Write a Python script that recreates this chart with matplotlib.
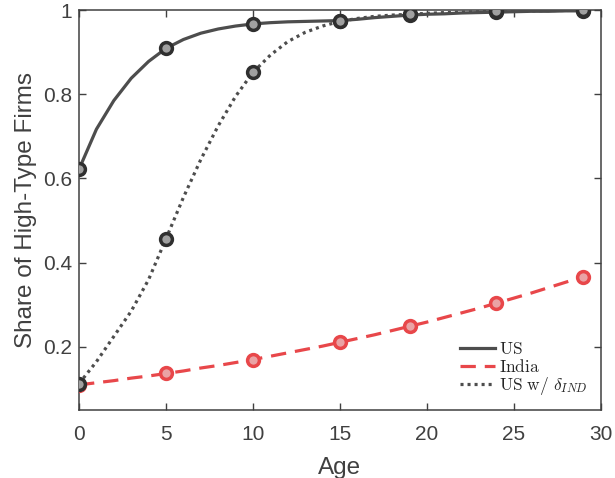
import numpy as np
import matplotlib
matplotlib.use('Agg')
import matplotlib.pyplot as plt

plt.rcParams['font.family'] = ['Liberation Sans', 'DejaVu Sans']
plt.rcParams['mathtext.fontset'] = 'cm'

# Daten
age = np.arange(30)
us = [0.622, 0.717, 0.785, 0.838, 0.878, 0.909, 0.930, 0.945, 0.955, 0.962,
      0.967, 0.970, 0.972, 0.973, 0.974, 0.975, 0.978, 0.982, 0.985, 0.988,
      0.990, 0.991, 0.993, 0.994, 0.995, 0.996, 0.997, 0.997, 0.998, 0.998]
india = [0.110, 0.115, 0.120, 0.126, 0.131, 0.137, 0.143, 0.150, 0.156, 0.163,
         0.170, 0.178, 0.186, 0.194, 0.202, 0.211, 0.220, 0.229, 0.239, 0.249,
         0.259, 0.270, 0.281, 0.292, 0.304, 0.316, 0.328, 0.341, 0.354, 0.367]
us_ind = [0.113, 0.165, 0.225, 0.285, 0.360, 0.457, 0.555, 0.645, 0.725, 0.795,
          0.852, 0.893, 0.925, 0.947, 0.962, 0.973, 0.980, 0.985, 0.988, 0.990,
          0.992, 0.994, 0.995, 0.996, 0.997, 0.998, 0.998, 0.999, 0.999, 1.000]
marker_ages = [0, 5, 10, 15, 19, 24, 29]

fig = plt.figure(figsize=(6.15, 4.78), dpi=100)
ax = fig.add_axes([0.1285, 0.142, 0.8485, 0.837])

grau = '#4d4d4d'
rot = '#e8474a'

ax.plot(age, us, color=grau, lw=2.3, label=r'$\mathrm{US}$', zorder=3)
ax.plot(age, india, color=rot, lw=2.3, dashes=(4.8, 2.8), label=r'$\mathrm{India}$', zorder=3)
ax.plot(age, us_ind, color=grau, lw=2.3, linestyle=(0, (0.95, 1.25)),
        label=r'$\mathrm{US\ w/}\ \delta_{IND}$', zorder=3)

# Marker an ausgewaehlten Jahren
for serie, fc, ec in [(us, '#a0a0a0', '#2f2f2f'), (india, '#eaa3a5', rot), (us_ind, '#a0a0a0', '#2f2f2f')]:
    ax.plot(marker_ages, [serie[a] for a in marker_ages], 'o', ms=8.5, mfc=fc, mec=ec,
            mew=2.5, linestyle='none', zorder=4)

ax.set_xlim(0, 30)
ax.set_ylim(0.05, 1)
ax.set_xticks(range(0, 31, 5))
ax.set_yticks([0.2, 0.4, 0.6, 0.8, 1.0])
ax.set_yticklabels(['0.2', '0.4', '0.6', '0.8', '1'])
ax.set_xlabel('Age', fontsize=17.5, color='#404040', labelpad=9)
ax.set_ylabel('Share of High-Type Firms', fontsize=17.5, color='#404040', labelpad=4)

ax.tick_params(direction='in', top=True, right=True, length=5, width=1,
               colors='#404040', labelsize=15)
ax.tick_params(axis='x', pad=11)
ax.tick_params(axis='y', pad=5)
for sp in ax.spines.values():
    sp.set_color('#404040')
    sp.set_linewidth(1.1)

leg = ax.legend(loc='lower right', frameon=False, fontsize=12.5, handlelength=2.0,
                handletextpad=0.25, labelspacing=0.02, borderaxespad=0.35,
                bbox_to_anchor=(1.0, 0.0))
for t in leg.get_texts():
    t.set_color('#262626')

fig.savefig('out.png', dpi=100)
